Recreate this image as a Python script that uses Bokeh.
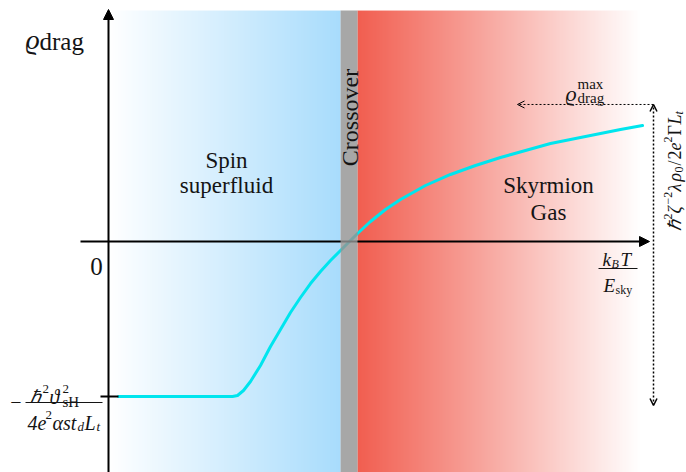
import numpy as np
from math import pi
from bokeh.plotting import figure
from bokeh.models import Range1d, Label, Arrow, NormalHead, OpenHead
from bokeh.embed import file_html
from bokeh.resources import INLINE

# ---- data (kBT/Esky scaled so the crossover sits at 1; rho scaled so the plateau is -1)
kT = [0.0417, 0.5167, 0.5375, 0.5625, 0.5917, 0.6333, 0.675, 0.7167, 0.7583, 0.8,
      0.8417, 0.8833, 0.925, 0.9667, 1.0, 1.0375, 1.0917, 1.1542, 1.2167, 1.3208,
      1.425, 1.5292, 1.6333, 1.7375, 1.8417, 1.9458, 2.05, 2.1333, 2.225]
rho = [-1.0, -1.0, -0.9935, -0.9613, -0.9032, -0.8, -0.6774, -0.5677, -0.4581, -0.3613,
       -0.271, -0.1935, -0.1226, -0.0581, -0.0065, 0.0516, 0.129, 0.2065, 0.271, 0.3613,
       0.4323, 0.4903, 0.5419, 0.5871, 0.6323, 0.6645, 0.6968, 0.7226, 0.7484]
superfluid_end = 0.967
crossover_end = 1.0375
gas_end = 2.217
region_top = 1.49
rho_max = 0.884
rho_min = -1.0

FONT = "Liberation Serif"
INK = "#141414"

W, H = 686, 472

# mapping helpers for annotation placement (window pixel -> data)
def px(x):
    return (x - 108) / 240.0

def py(y):
    return (241 - y) / 155.0

p = figure(width=W, height=H, output_backend="svg", toolbar_location=None,
           x_range=Range1d(px(0), px(W)), y_range=Range1d(py(H), py(0)),
           min_border=0, outline_line_color=None, background_fill_color="white")
p.axis.visible = False
p.grid.visible = False

Ybot = py(490)

def gradient(c0, c1, n=256):
    t = np.linspace(0, 1, n)
    c0 = np.array(c0, float); c1 = np.array(c1, float)
    cols = (c0[None, :] * (1 - t[:, None]) + c1[None, :] * t[:, None]).round().astype(np.uint8)
    img = np.empty((1, n), dtype=np.uint32)
    view = img.view(dtype=np.uint8).reshape((1, n, 4))
    view[0, :, 0] = cols[:, 0]
    view[0, :, 1] = cols[:, 1]
    view[0, :, 2] = cols[:, 2]
    view[0, :, 3] = 255
    return img

blue = gradient((255, 255, 255), (168, 220, 252))
red = gradient((241, 94, 80), (255, 255, 255))
p.image_rgba(image=[blue], x=0, y=Ybot, dw=superfluid_end, dh=region_top - Ybot)
p.image_rgba(image=[red], x=crossover_end, y=Ybot, dw=gas_end - crossover_end, dh=region_top - Ybot)

# curve
p.line(kT, rho, line_color="#00e5ee", line_width=3, line_join="round", line_cap="round")

# plateau tick
p.segment(x0=[px(100)], y0=[rho_min], x1=[px(118)], y1=[rho_min], line_color="black", line_width=2)

# axes
p.add_layout(Arrow(x_start=0, y_start=Ybot, x_end=0, y_end=py(9),
                   line_width=2, line_color="black",
                   end=NormalHead(size=10, fill_color="black", line_color="black")))
p.add_layout(Arrow(x_start=px(80), y_start=0, x_end=px(649), y_end=0,
                   line_width=2, line_color="black",
                   end=NormalHead(size=10, fill_color="black", line_color="black")))

# dotted arrows
xv = px(653)
p.add_layout(Arrow(x_start=xv, y_start=py(405), x_end=xv, y_end=rho_max,
                   line_width=1.5, line_color="black", line_dash="2 2",
                   start=OpenHead(size=7, line_width=1.5, line_color="black"),
                   end=OpenHead(size=7, line_width=1.5, line_color="black")))
p.add_layout(Arrow(x_start=xv, y_start=rho_max, x_end=px(517), y_end=rho_max,
                   line_width=1, line_color="black", line_dash="2 2",
                   end=OpenHead(size=7, line_width=1, line_color="black")))

# crossover band (semi-transparent, on top)
p.quad(left=[superfluid_end], right=[crossover_end], bottom=[Ybot], top=[region_top],
       fill_color="#949494", fill_alpha=0.82, line_color=None, level="overlay")

def lab(xp, yp, s, size, style="normal", align="left", base="alphabetic", angle=0, level="annotation"):
    p.add_layout(Label(x=px(xp), y=py(yp), text=s, text_font=FONT,
                       text_font_size=f"{size}px", text_font_style=style,
                       text_align=align, text_baseline=base, angle=angle,
                       text_color=INK, level=level))

# fraction lines
p.segment(x0=[px(25), px(598)], y0=[py(402), py(268)], x1=[px(102), px(637)], y1=[py(402), py(268)],
          line_color=INK, line_width=1)

# y label
lab(25, 39, "ϱ", 28, "italic")
lab(39, 41, "drag", 25)
# zero
lab(96, 266, "0", 25, align="center")
# region labels
lab(226, 160, "Spin", 23, align="center")
lab(226, 185, "superfluid", 23, align="center")
lab(548, 185, "Skyrmion", 23, align="center")
lab(548, 212, "Gas", 23, align="center")
lab(349, 117, "Crossover", 24, align="center", base="middle", angle=pi / 2, level="overlay")
# x label
lab(602, 259, "k", 19, "italic")
lab(611, 263, "B", 12, "italic")
lab(620, 259, "T", 19, "italic")
lab(603, 285, "E", 19, "italic")
lab(615, 289, "sky", 12)
# rho max
lab(565, 93, "ϱ", 22, "italic")
lab(577, 83, "max", 15)
lab(577, 97, "drag", 15)

# right vertical label, composed piece by piece (reads bottom to top)
XB, XSUP, XSUB = 674, 667, 678
rv = [  # (text, size, style, baseline-x, advance)
    ("ℏ", 18, "italic", XB, 11),
    ("2", 12, "normal", XSUP, 6),
    ("ζ", 18, "italic", XB, 9),
    ("−2", 12, "normal", XSUP, 13),
    ("λ", 18, "italic", XB, 10),
    ("ρ", 18, "italic", XB, 9),
    ("0", 12, "normal", XSUB, 7),
    ("/", 18, "normal", XB, 6),
    ("2", 18, "normal", XB, 9),
    ("e", 18, "italic", XB, 8),
    ("2", 12, "normal", XSUP, 7),
    ("Γ", 18, "normal", XB, 11),
    ("L", 18, "italic", XB, 10),
    ("t", 12, "italic", XSUB, 4),
]
ycur = 230
for s, size, style, xb, adv in rv:
    lab(xb, ycur, s, size, style, angle=pi / 2)
    ycur -= adv

# left plateau label
lab(15.5, 401, "−", 20, align="center")
lab(29, 396, "ℏ", 18, "italic")
lab(42, 388, "2", 13)
lab(49, 396, "ϑ", 20, "italic")
lab(62, 388, "2", 13)
lab(62, 401, "sH", 15)
lab(27, 422, "4e", 20, "italic")
lab(45, 414, "2", 13)
lab(52, 422, "αst", 20, "italic")
lab(77, 426, "d", 13, "italic")
lab(84, 422, "L", 20, "italic")
lab(96, 426, "t", 13, "italic")

open("out.html", "w").write(file_html(p, INLINE))
